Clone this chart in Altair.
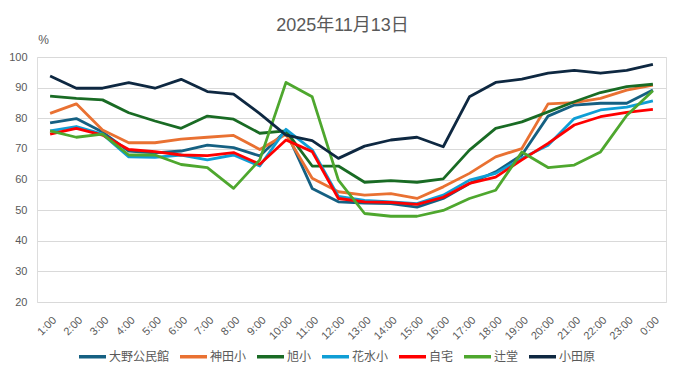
import altair as alt
import pandas as pd

hours = ["1:00", "2:00", "3:00", "4:00", "5:00", "6:00", "7:00", "8:00", "9:00", "10:00",
         "11:00", "12:00", "13:00", "14:00", "15:00", "16:00", "17:00", "18:00", "19:00",
         "20:00", "21:00", "22:00", "23:00", "0:00"]

series_names = ["大野公民館", "神田小", "旭小", "花水小", "自宅", "辻堂", "小田原"]
colors = ["#156082", "#E97132", "#196B24", "#0F9ED5", "#FF0000", "#4EA72E", "#0E2841"]

ono = [78.5, 79.9, 75.5, 69.3, 68.7, 69.3, 71.2, 70.4, 67.7, 75.9, 57.1, 52.7,
       52.3, 52.1, 51.0, 53.8, 58.7, 62.5, 68.0, 80.7, 84.3, 84.9, 84.9, 89.2]
kanda = [81.6, 84.7, 76.2, 72.0, 72.0, 73.2, 73.8, 74.4, 69.8, 74.8, 60.4, 56.0,
         54.9, 55.4, 53.8, 57.6, 62.0, 67.4, 70.1, 84.7, 85.1, 86.5, 89.2, 90.8]
asahi = [87.2, 86.5, 86.0, 81.8, 79.1, 76.7, 80.7, 79.7, 75.1, 75.9, 64.4, 64.4,
         59.1, 59.6, 59.1, 60.2, 69.6, 76.7, 78.8, 82.1, 85.4, 88.4, 90.3, 91.1]
hanamizu = [75.9, 77.3, 74.8, 67.4, 67.2, 68.0, 66.4, 68.0, 64.4, 76.4, 69.7, 54.5,
            53.2, 52.7, 52.1, 54.9, 59.8, 62.0, 66.9, 71.2, 79.9, 82.7, 83.6, 85.7]
jitaku = [74.8, 76.7, 74.5, 69.8, 69.1, 68.0, 67.8, 68.8, 65.0, 72.9, 69.1, 53.8,
          52.7, 52.5, 51.9, 54.2, 58.7, 60.8, 66.4, 71.8, 77.8, 80.5, 81.9, 82.9]
tsujido = [75.9, 73.8, 74.8, 68.0, 68.0, 64.9, 63.9, 57.1, 66.4, 91.7, 87.0, 59.8,
           48.9, 48.0, 48.0, 49.9, 53.8, 56.5, 69.0, 63.9, 64.7, 69.0, 80.9, 89.0]
odawara = [93.8, 89.8, 89.8, 91.6, 89.8, 92.7, 88.7, 87.9, 81.5, 74.5, 72.7, 66.9,
           70.9, 72.9, 73.8, 70.7, 87.0, 91.7, 92.8, 94.7, 95.6, 94.7, 95.6, 97.6]

y_ticks = [20, 30, 40, 50, 60, 70, 80, 90, 100]

all_values = [ono, kanda, asahi, hanamizu, jitaku, tsujido, odawara]
rows = []
for name, vals in zip(series_names, all_values):
    for i, (h, v) in enumerate(zip(hours, vals)):
        rows.append({"series": name, "time": h, "idx": i, "value": v})
df = pd.DataFrame(rows)

FONT = "Liberation Sans, Noto Sans CJK JP, sans-serif"
TXT = "#595959"

chart = alt.Chart(df).mark_line(strokeWidth=2.8, strokeJoin="round").encode(
    x=alt.X("time:N", sort=hours,
            scale=alt.Scale(type="point", padding=0.5),
            axis=alt.Axis(title=None, labelAngle=315, labelFontSize=11, labelColor=TXT,
                          labelFont=FONT, labelPadding=12, ticks=False, domain=False,
                          grid=False, labelOverlap=False)),
    y=alt.Y("value:Q",
            scale=alt.Scale(domain=[20, 100], nice=False, zero=False),
            axis=alt.Axis(values=y_ticks, title="%", titleAngle=0, titleX=6, titleY=-18,
                          titleAlign="center", titleBaseline="middle", titleFontSize=12,
                          titleFontWeight="normal", titleColor=TXT, titleFont=FONT,
                          labelFontSize=11, labelColor=TXT, labelFont=FONT, labelPadding=10,
                          ticks=False, domain=False, grid=True, gridColor="#d9d9d9",
                          gridWidth=1)),
    color=alt.Color("series:N", sort=series_names,
                    scale=alt.Scale(domain=series_names, range=colors),
                    legend=alt.Legend(title=None, orient="none", direction="horizontal",
                                      columns=7, legendX=40, legendY=284,
                                      symbolType="stroke", symbolSize=729,
                                      symbolStrokeWidth=3.5, labelFontSize=12,
                                      labelColor=TXT, labelFont=FONT, labelOffset=1,
                                      columnPadding=3, padding=0)),
    order=alt.Order("idx:Q"),
).properties(
    width=629,
    height=245,
    autosize="none",
    padding={"left": 29, "top": 49, "right": 5, "bottom": 64},
    title=alt.TitleParams("2025年11月13日", fontSize=18, fontWeight="normal", color=TXT,
                          font=FONT, anchor="middle", dx=-9, dy=6),
).configure_view(stroke=None).configure(background="white")

chart.save("out.html", embed_options={"renderer": "svg", "actions": False})
